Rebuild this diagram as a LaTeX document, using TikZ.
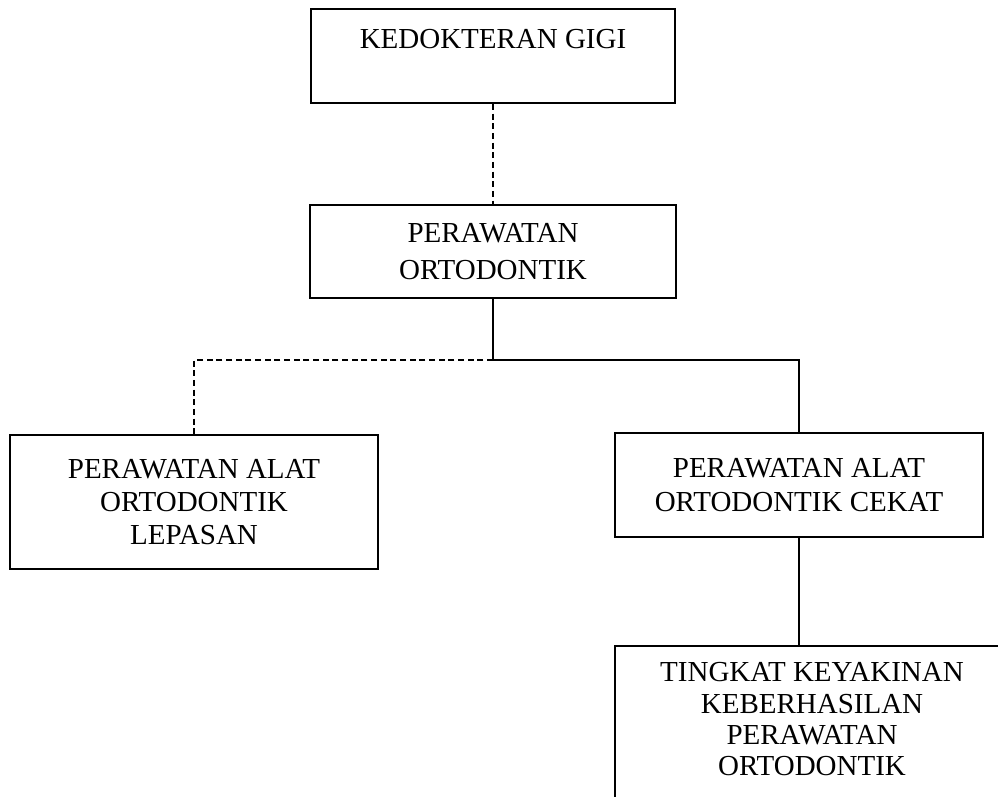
\documentclass[tikz,border=0pt]{standalone}
\usepackage{fontspec}
\setmainfont{Liberation Serif}
\usetikzlibrary{positioning, calc}
\tikzset{
  blk/.style={draw, line width=1pt, align=center, inner sep=2pt, font=\fontsize{16.5}{19}\selectfont},
  con/.style={line width=1pt},
  dcon/.style={con, dash pattern=on 3.5pt off 2pt}
}

\begin{document}
\begin{tikzpicture}[x=0.02cm, y=-0.02cm]
		\clip (0,0) rectangle (998,796);
		\node[blk, minimum width=7.28cm, minimum height=1.88cm] (kg) at (493,56) {KEDOKTERAN GIGI\\ ~};
		\node[blk, minimum width=7.32cm, minimum height=1.86cm, font=\fontsize{16.5}{21}\selectfont] (po) at (493,251.5) {PERAWATAN\\ ORTODONTIK};
		\node[blk, minimum width=7.36cm, minimum height=2.68cm] (lep) at (194,502) {PERAWATAN ALAT\\ ORTODONTIK\\ LEPASAN};
		\node[blk, minimum width=7.36cm, minimum height=2.08cm] (cek) at (799,485) {PERAWATAN ALAT\\ ORTODONTIK CEKAT};
		\node[blk, anchor=north, minimum width=7.88cm, text depth=3cm, inner ysep=9.5pt, font=\fontsize{16.5}{17.8}\selectfont] (tk) at (812,645) {TINGKAT KEYAKINAN\\ KEBERHASILAN\\ PERAWATAN\\ ORTODONTIK};
		\coordinate (sp) at (493,360);
		\draw[dcon] (kg) -- (po);
		\draw[con] (po) -- (sp) -- (sp -| cek.north) -- (cek);
		\draw[dcon] (sp) -- (sp -| lep.north) -- (lep);
		\draw[con] (cek) -- (cek.south |- tk.north);
	\end{tikzpicture}
\end{document}
